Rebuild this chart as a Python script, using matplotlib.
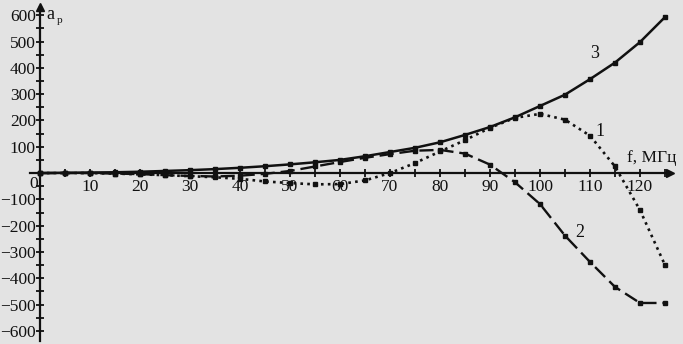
import matplotlib
matplotlib.use("Agg")
import matplotlib.pyplot as plt
from matplotlib.ticker import FixedLocator

plt.rcParams['font.family'] = ['Liberation Serif', 'DejaVu Serif']

# frequency, MHz
freq = [0, 5, 10, 15, 20, 25, 30, 35, 40, 45, 50, 55, 60, 65, 70,
        75, 80, 85, 90, 95, 100, 105, 110, 115, 120, 125]
# curve 1 (dotted)
curve1 = [0, 0, 0, -2, -5, -8, -12, -16, -22, -32, -38, -43, -42, -28, 0,
          38, 82, 125, 172, 210, 225, 203, 142, 25, -141, -350]
# curve 2 (dashed)
curve2 = [0, 0, 0, -2, -4, -8, -11, -13, -10, -3, 8, 25, 42, 58, 72,
          85, 88, 74, 32, -35, -118, -238, -338, -433, -494, -494]
# curve 3 (solid)
curve3 = [0, 1, 2, 3, 5, 8, 11, 15, 20, 26, 33, 41, 50, 64, 80,
          96, 117, 145, 175, 212, 255, 298, 357, 420, 498, 593]

y_ticks = [-600, -500, -400, -300, -200, -100, 100, 200, 300, 400, 500, 600]
x_ticks = [10, 20, 30, 40, 50, 60, 70, 80, 90, 100, 110, 120]

ink = '#111111'
paper = '#e3e3e3'

fig = plt.figure(figsize=(6.83, 3.44), dpi=100, facecolor=paper)
ax = fig.add_axes([0, 0, 1, 1], facecolor=paper)
ax.set_xlim(-8, 128.6)
ax.set_ylim(-650, 658)

# curves
ax.plot(freq, curve3, color=ink, lw=1.8, marker='s', ms=3)
ax.plot(freq, curve1, color=ink, lw=1.9, ls=(0, (1, 1.6)), marker='s', ms=3)
ax.plot(freq, curve2, color=ink, lw=1.7, ls=(0, (6, 2.5)), marker='s', ms=3)

# axes through the origin
for s in ['top', 'right']:
    ax.spines[s].set_visible(False)
ax.spines['left'].set_position(('data', 0))
ax.spines['bottom'].set_position(('data', 0))
ax.spines['left'].set_bounds(-640, 630)
ax.spines['bottom'].set_bounds(-2, 126)
for s in ['left', 'bottom']:
    ax.spines[s].set_linewidth(1.6)
    ax.spines[s].set_color(ink)
ax.plot(0, 632, marker='^', color=ink, ms=6, clip_on=False)
ax.plot(126, 0, marker='>', color=ink, ms=6, clip_on=False)

ax.yaxis.set_major_locator(FixedLocator(y_ticks))
ax.yaxis.set_minor_locator(FixedLocator([v for v in range(-600, 601, 50)
                                         if v % 100 != 0]))
ax.xaxis.set_major_locator(FixedLocator(x_ticks))
ax.xaxis.set_minor_locator(FixedLocator([v for v in range(5, 126, 5)
                                         if v % 10 != 0]))
ax.tick_params(which='both', direction='inout', length=6, width=1.3,
               color=ink, labelsize=12.5, labelcolor=ink)
ax.tick_params(axis='y', pad=0)
ax.tick_params(axis='x', pad=1)

ax.text(-0.3, -12, '0', ha='right', va='top', fontsize=12.5, color=ink)

# labels
ax.text(1.2, 602, 'a', fontsize=13, color=ink, va='center', ha='left')
ax.text(3.4, 580, 'р', fontsize=8, color=ink, va='center', ha='left')
ax.text(117.4, 58, 'f, МГц', fontsize=12.5, color=ink, va='center', ha='left')
ax.text(112, 158, '1', fontsize=13, color=ink, ha='center', va='center')
ax.text(108, -226, '2', fontsize=13, color=ink, ha='center', va='center')
ax.text(111, 456, '3', fontsize=13, color=ink, ha='center', va='center')

fig.savefig('out.png', dpi=100, facecolor=paper)
